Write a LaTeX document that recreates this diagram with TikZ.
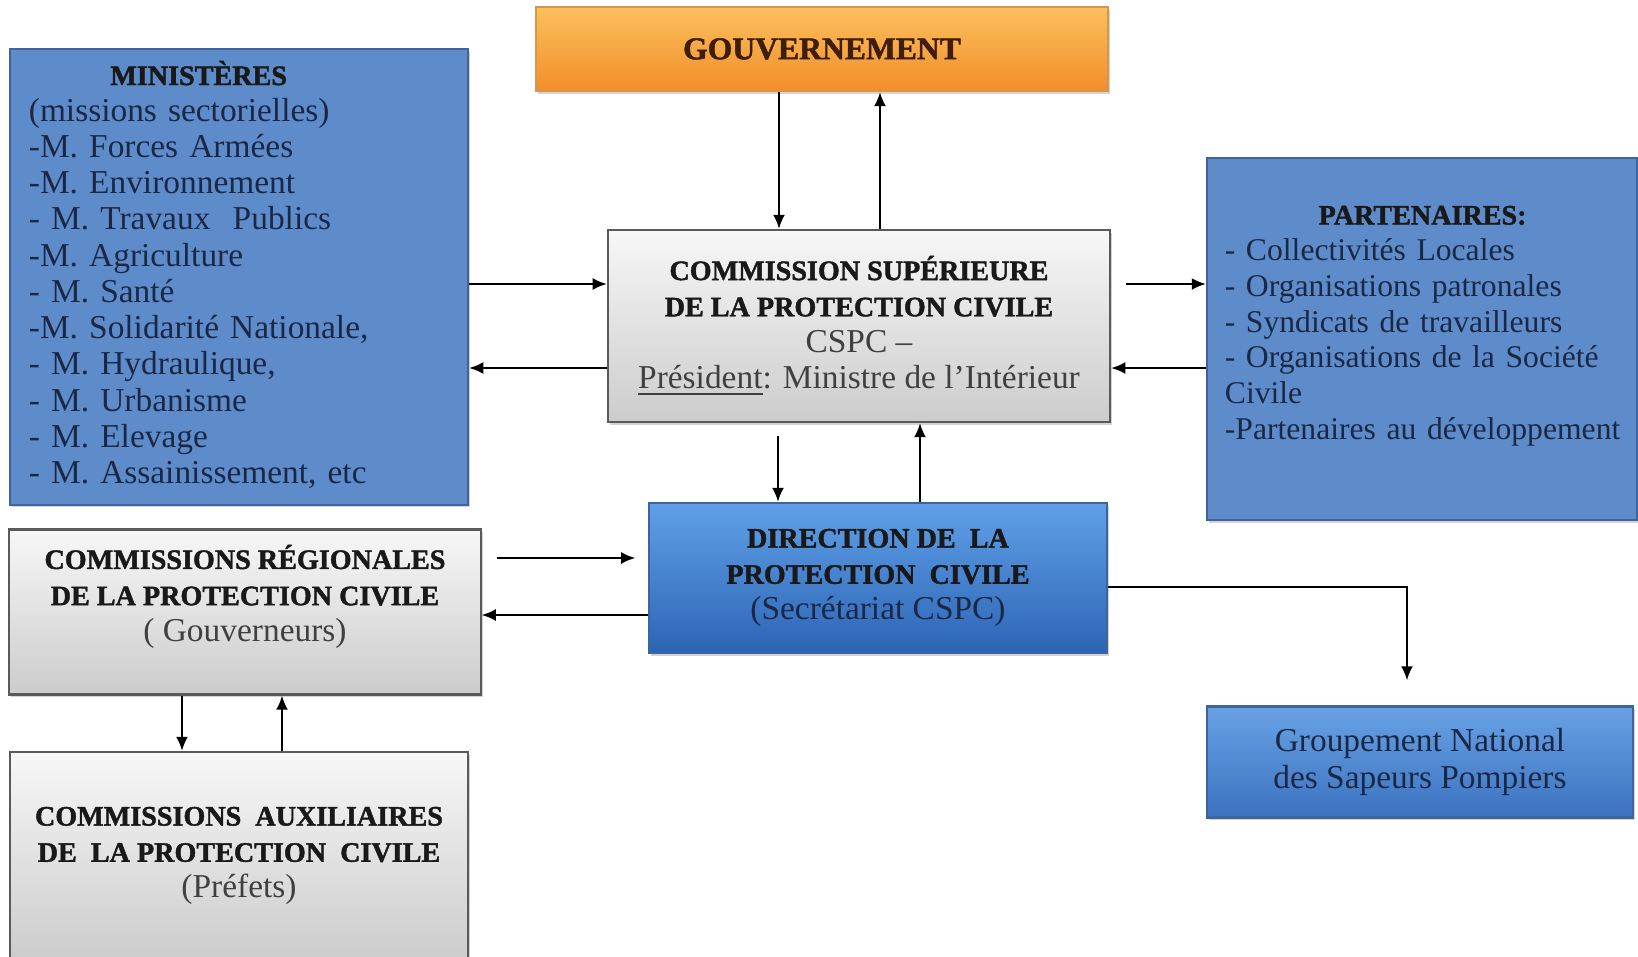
\documentclass[tikz,border=0pt]{standalone}
\usepackage{fontspec}
\setmainfont{Liberation Serif}
\newfontfamily\titlefont{Liberation Serif}[FakeBold=1.5]
\usepackage{tikz}
\usetikzlibrary{positioning,calc,shadows,arrows.meta}

\definecolor{minblue}{RGB}{94,140,202}
\definecolor{minline}{RGB}{62,100,160}
\definecolor{dirtop}{RGB}{96,160,232}
\definecolor{dirmid}{RGB}{62,132,218}
\definecolor{dirbot}{RGB}{44,100,180}
\definecolor{gsptop}{RGB}{104,162,228}
\definecolor{gspbot}{RGB}{60,114,192}
\definecolor{greytop}{RGB}{247,247,247}
\definecolor{greybot}{RGB}{204,204,204}
\definecolor{greyline}{RGB}{90,90,90}
\definecolor{govtop}{RGB}{252,192,92}
\definecolor{govbot}{RGB}{241,142,42}
\definecolor{govline}{RGB}{214,150,80}
\definecolor{navy}{RGB}{26,40,70}
\definecolor{govtext}{RGB}{62,30,8}

\newcommand{\ttl}{\titlefont\bfseries\fontsize{8}{9}\selectfont\color{black!90}}

\begin{document}
\begin{tikzpicture}[x=0.01cm, y=-0.01cm,
    semithick,
    >={Latex[length=4pt,width=3.4pt]},
    box/.style={rectangle, draw, inner sep=0pt,
      font=\fontsize{9.5}{10.3}\selectfont,
      drop shadow={shadow xshift=0.6pt, shadow yshift=-0.8pt, opacity=0.35}},
    bluebox/.style={box, fill=minblue, draw=minline, text=navy},
    dirbox/.style={box, top color=dirtop, middle color=dirmid, bottom color=dirbot, draw=minline, text=navy},
    gspbox/.style={box, top color=gsptop, bottom color=gspbot, draw=minline, text=navy},
    greybox/.style={box, top color=greytop, bottom color=greybot, draw=greyline, text=black!75, align=center},
    govbox/.style={box, top color=govtop, bottom color=govbot, draw=govline, text=govtext}
    ]
\useasboundingbox (0,0) rectangle (1638,957);

% boxes
\node[govbox, minimum width=5.72cm, minimum height=0.84cm] (gov) at (822,49)
  {\titlefont\bfseries\fontsize{9}{10}\selectfont GOUVERNEMENT};

\node[bluebox, minimum width=4.58cm, minimum height=4.55cm, text width=4.2cm,
  inner xsep=0.19cm, align=left] (min) at (239,277)
  {\begin{tabular}{@{}l@{}}
   \multicolumn{1}{c}{\ttl MINISTÈRES}\\
   (missions sectorielles)\\
   -M. Forces Armées\\
   -M. Environnement\\
   - M. Travaux \ Publics\\
   -M. Agriculture\\
   - M. Santé\\
   -M. Solidarité Nationale,\\
   - M. Hydraulique,\\
   - M. Urbanisme\\
   - M. Elevage\\
   - M. Assainissement, etc
   \end{tabular}};

\node[greybox, minimum width=5.02cm, minimum height=1.92cm] (cspc) at (859,326)
  {{\ttl COMMISSION SUPÉRIEURE}\\
   {\ttl DE LA PROTECTION CIVILE}\\
   CSPC --\\
   \underline{Président}: Ministre de l’Intérieur};

\node[bluebox, minimum width=4.30cm, minimum height=3.62cm, text width=3.94cm,
  inner xsep=0.18cm, align=left, font=\fontsize{9}{10.2}\selectfont] (part) at (1422,339)
  {\begin{tabular}{@{}l@{}}
   \multicolumn{1}{c}{\ttl PARTENAIRES:}\\
   - Collectivités Locales\\
   - Organisations patronales\\
   - Syndicats de travailleurs\\
   - Organisations de la Société\\
   Civile\\
   -Partenaires au développement\\[8pt]
   \end{tabular}};

\node[dirbox, minimum width=4.57cm, minimum height=1.50cm, align=center] (dir) at (878,578)
  {{\ttl DIRECTION DE \ LA}\\
   {\ttl PROTECTION \ CIVILE}\\
   (Secrétariat CSPC)};

\node[greybox, minimum width=4.71cm, minimum height=1.65cm] (creg) at (245,612)
  {\begin{tabular}{@{}c@{}}
   {\ttl COMMISSIONS RÉGIONALES}\\
   {\ttl DE LA PROTECTION CIVILE}\\
   ( Gouverneurs)\\[8pt]
   \end{tabular}};

\node[greybox, minimum width=4.58cm, minimum height=2.08cm] (caux) at (239,856)
  {{\ttl COMMISSIONS \ AUXILIAIRES}\\
   {\ttl DE \ LA PROTECTION \ CIVILE}\\
   (Préfets)};

\node[gspbox, minimum width=4.26cm, minimum height=1.11cm, align=center] (gsp) at (1420,762)
  {Groupement National\\des Sapeurs Pompiers};

% columns and rows of the links
\coordinate (xa) at (779,0);
\coordinate (xb) at (880,0);
\coordinate (xc) at (778,0);
\coordinate (xd) at (920,0);
\coordinate (xe) at (182,0);
\coordinate (xf) at (282,0);
\coordinate (xg) at (1407,0);
\coordinate (ya) at (0,284);
\coordinate (yb) at (0,368);
\coordinate (yc) at (0,558);
\coordinate (yd) at (0,615);
\coordinate (ye) at (0,587);

% links
\draw[->] (gov.south -| xa) -- (cspc.north -| xa);
\draw[->] (cspc.north -| xb) -- (gov.south -| xb);
\draw[->] (min.east |- ya) -- (cspc.west |- ya);
\draw[->] (cspc.west |- yb) -- (min.east |- yb);
\draw[->, shorten <=0.15cm] (cspc.east |- ya) -- (part.west |- ya);
\draw[->] (part.west |- yb) -- (cspc.east |- yb);
\draw[->, shorten <=0.13cm] (cspc.south -| xc) -- (dir.north -| xc);
\draw[->] (dir.north -| xd) -- (cspc.south -| xd);
\draw[->, shorten <=0.15cm, shorten >=0.13cm] (creg.east |- yc) -- (dir.west |- yc);
\draw[->] (dir.west |- yd) -- (creg.east |- yd);
\draw[->, shorten >=0.25cm] (dir.east |- ye) -| (gsp.north -| xg);
\draw[->] (creg.south -| xe) -- (caux.north -| xe);
\draw[->] (caux.north -| xf) -- (creg.south -| xf);
\end{tikzpicture}
\end{document}
